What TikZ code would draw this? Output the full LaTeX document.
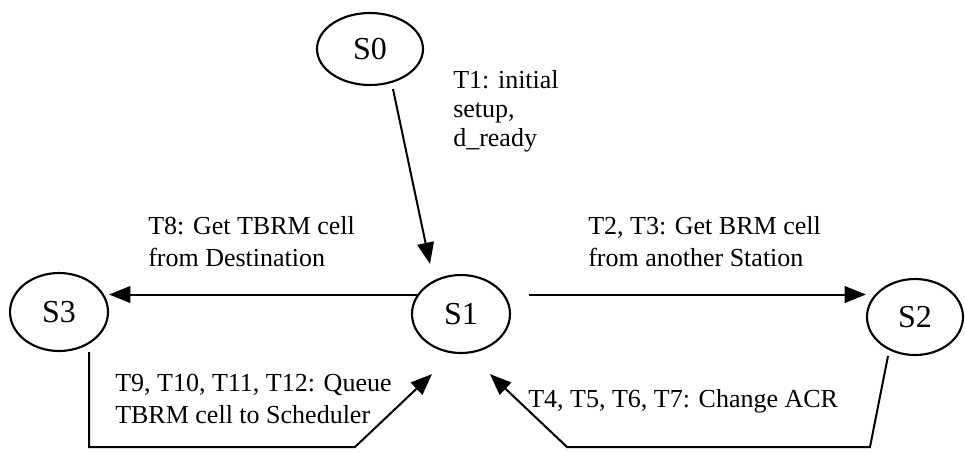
\documentclass[tikz,border=0pt]{standalone}
\usepackage{fontspec}
\setmainfont{Liberation Serif}
\usetikzlibrary{shapes.geometric, arrows.meta}
\tikzstyle{state} = [ellipse, draw=black, line width=1.6pt, minimum width=73.5pt, minimum height=58.5pt, inner sep=0pt, font=\fontsize{24}{28}\selectfont]
\tikzstyle{note} = [anchor=north west, inner sep=0pt, align=left, font=\fontsize{19.5}{24}\selectfont]
\tikzstyle{arrow} = [line width=1.5pt,-{Triangle[length=16pt,width=12.5pt]}]

\begin{document}
\begin{tikzpicture}[x=0.75pt, y=-0.75pt]
    \useasboundingbox (0,0) rectangle (965,451);
    \node (s0) [state, minimum width=79.5pt, minimum height=54pt] at (370,49) {S0};
    \node (s1) [state] at (461,314) {S1};
    \node (s3) [state] at (59,312) {S3};
    \node (s2) [state, minimum width=72pt, minimum height=57pt] at (915,317) {S2};
    \node (t1) [note, font=\fontsize{19.5}{22}\selectfont] at (453,70) {T1: initial\\setup,\\d\_ready};
    \node (t8) [note] at (148,216) {T8: Get TBRM cell\\from Destination};
    \node (t2) [note] at (588,216) {T2, T3: Get BRM cell\\from another Station};
    \node (t9) [note] at (115,374) {T9, T10, T11, T12: Queue\\TBRM cell to Scheduler};
    \node (t4) [note] at (528,389) {T4, T5, T6, T7: Change ACR};
    % bends of the two return paths
    \coordinate (l1) at (89,447);
    \coordinate (l2) at (355,447);
    \coordinate (r1) at (870,447);
    \coordinate (r2) at (567,447);
    \draw [arrow] ([xshift=17.25pt,yshift=-2.25pt]s0.south) -- ([xshift=-23.25pt,yshift=7.5pt]s1.north);
    \draw [arrow] (s1.156) -- (s1.156 -| s3.east);
    \draw [arrow, shorten <=18pt] (s1.24) -- (s1.24 -| s2.west);
    \draw [arrow] (l1 |- s3.south) -- (l1) -- (l2) -- ([xshift=-21.75pt,yshift=-15pt]s1.south);
    \draw [arrow] ([xshift=-20.25pt]s2.south) -- (r1) -- (r2) -- ([xshift=21.75pt,yshift=-15pt]s1.south);
\end{tikzpicture}
\end{document}
